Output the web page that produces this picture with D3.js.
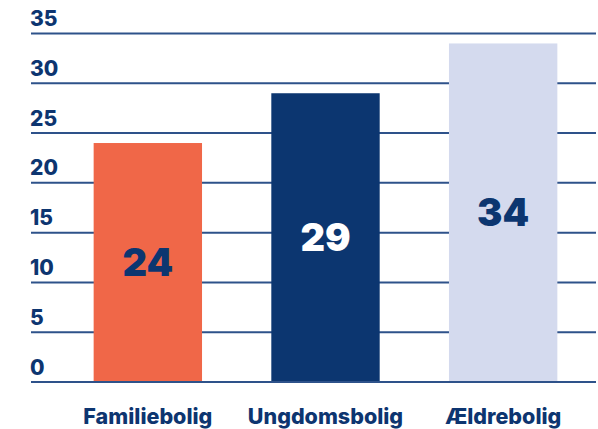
<!DOCTYPE html>
<html>
<head>
<meta charset="utf-8">
<script src="https://cdn.jsdelivr.net/npm/d3@7"></script>
<style>
  body { margin: 0; background: #fff; }
  svg { display: block; font-family: Inter, "Noto Sans", sans-serif; }
</style>
</head>
<body>
<svg width="598" height="429"></svg>
<script>
// chart data
var categories = ["Familiebolig", "Ungdomsbolig", "Ældrebolig"];
var values = [24, 29, 34];
var barColors = ["#f06748", "#0c3670", "#d4daee"];
var labelColors = ["#0c3670", "#ffffff", "#0c3670"];
var yTicks = [0, 5, 10, 15, 20, 25, 30, 35];

var svg = d3.select("svg"),
	navy = "#0d3570";

// scales
var xScale = d3.scaleBand().domain(categories).range([59, 592]).paddingInner(0.39).paddingOuter(0.195),
	yScale = d3.scaleLinear().domain([0, 35]).range([382, 33.5]);

// gridlines + y labels
var grid = svg.append("g");
grid.selectAll("line")
	.data(yTicks)
	.enter().append("line")
	.attr("x1", 31).attr("x2", 596)
	.attr("y1", d => yScale(d)).attr("y2", d => yScale(d))
	.attr("stroke", "#2e528a")
	.attr("stroke-width", 2);
grid.selectAll("text")
	.data(yTicks)
	.enter().append("text")
	.attr("x", 30)
	.attr("y", d => yScale(d) - 7.5)
	.attr("fill", navy)
	.attr("font-size", 21)
	.attr("font-weight", 800)
	.text(d => d);

// bars
svg.selectAll(".bar")
	.data(values)
	.enter().append("rect")
	.attr("class", "bar")
	.attr("x", (d, i) => xScale(categories[i]))
	.attr("y", d => yScale(d))
	.attr("width", xScale.bandwidth())
	.attr("height", d => yScale(0) - yScale(d) - 1)
	.attr("fill", (d, i) => barColors[i]);

// value labels
svg.selectAll(".val")
	.data(values)
	.enter().append("text")
	.attr("class", "val")
	.attr("x", (d, i) => xScale(categories[i]) + xScale.bandwidth() / 2)
	.attr("y", d => (yScale(d) + yScale(0)) / 2 + 13.5)
	.attr("text-anchor", "middle")
	.attr("fill", (d, i) => labelColors[i])
	.attr("font-size", 38)
	.attr("font-weight", 900)
	.text(d => d);

// category labels
svg.append("g").selectAll("text")
	.data(categories)
	.enter().append("text")
	.attr("x", d => xScale(d) + xScale.bandwidth() / 2)
	.attr("y", 424)
	.attr("text-anchor", "middle")
	.attr("fill", navy)
	.attr("font-size", 21.5)
	.attr("font-weight", 800)
	.text(d => d);
</script>
</body>
</html>
